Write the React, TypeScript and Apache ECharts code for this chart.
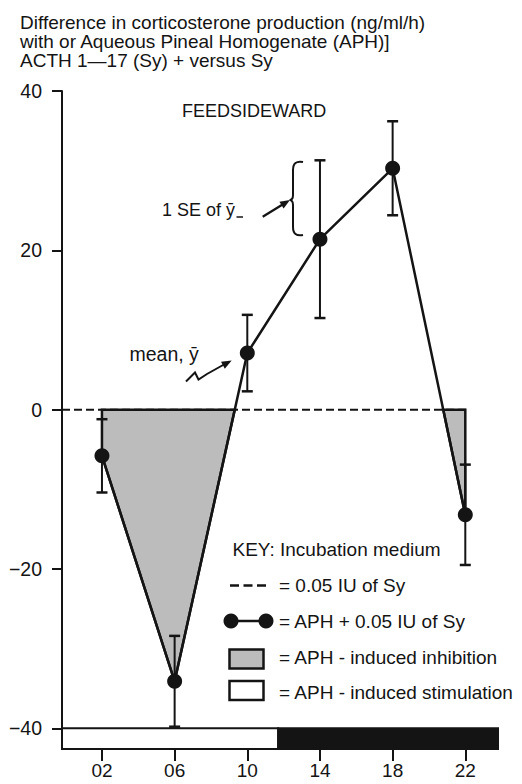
import React, { useEffect, useRef } from "react";
import * as echarts from "echarts";

// ---- Data ----
const hours = [2, 6, 10, 14, 18, 22];
const means = [-5.8, -34.1, 7.1, 21.4, 30.3, -13.2];
const se = [4.6, 5.7, 4.8, 9.9, 5.9, 6.3];
const referenceHours = [-0.2, 22.2];
const referenceValues = [0, 0];
const xTicks = [2, 6, 10, 14, 18, 22];
const yTicks = [-40, -20, 0, 20, 40];
const photoStart = [-0.2, 11.7];
const photoEnd = [11.7, 23.8];
const photoPhase = ["light", "dark"];
const xMin = -0.2;
const xMax = 23.8;
const yMin = -42.6;
const yMax = 40;
const barTop = -40;

const titleLines = [
  "Difference in corticosterone production (ng/ml/h)",
  "with or Aqueous Pineal Homogenate (APH)]",
  "ACTH 1\u201417 (Sy) + versus Sy",
];
const legendTitle = "KEY: Incubation medium";
const legendLabels = [
  "= 0.05 IU of Sy",
  "= APH + 0.05 IU of Sy",
  "= APH - induced inhibition",
  "= APH - induced stimulation",
];

const FONT = '"Liberation Sans", Arial, Helvetica, sans-serif';
const INK = "#141414";
const GRAY = "#bcbcbc";

echarts.graphic.registerShape(
  "brace",
  echarts.graphic.extendPath(
    "M303,162 Q293,160 293,170 L293,195 Q293,200 289.5,200 Q293,200 293,205 L293,227 Q293,237 303,235",
    {}
  )
);

function txt(text: string, x: number, y: number, size = 18, extra: any = {}) {
  return {
    type: "text",
    z: 20,
    style: {
      text,
      x,
      y,
      fill: INK,
      font: `${size}px ${FONT}`,
      align: "left",
      verticalAlign: "middle",
      ...extra,
    },
  };
}

export default function App() {
  const ref = useRef<HTMLDivElement>(null);
  useEffect(() => {
    if (!ref.current) return;
    const chart = echarts.init(ref.current, null, { renderer: "svg" });

    const negRegions = (): number[][][] => {
      const regions: number[][][] = [];
      let cur: number[][] | null = null;
      for (let i = 0; i < hours.length; i++) {
        const v = means[i];
        if (v < 0) {
          if (!cur) {
            cur = [];
            if (i > 0 && means[i - 1] > 0) {
              const a = means[i - 1];
              const t = a / (a - v);
              cur.push([hours[i - 1] + t * (hours[i] - hours[i - 1]), 0]);
            } else {
              cur.push([hours[i], 0]);
            }
          }
          cur.push([hours[i], v]);
          if (i === hours.length - 1) {
            cur.push([hours[i], 0]);
            regions.push(cur);
            cur = null;
          }
        } else if (cur) {
          const a = means[i - 1];
          const t = a / (a - v);
          cur.push([hours[i - 1] + t * (hours[i] - hours[i - 1]), 0]);
          regions.push(cur);
          cur = null;
        }
      }
      return regions;
    };

    const option: any = {
      animation: false,
      grid: {
        left: 62,
        right: 24,
        top: 91,
        bottom: 35,
        containLabel: false,
        outerBoundsMode: "none",
      },
      xAxis: {
        type: "value",
        min: xMin,
        max: xMax,
        axisLine: { show: true, onZero: false, lineStyle: { color: INK, width: 2 } },
        axisTick: {
          show: true,
          customValues: xTicks,
          length: 12,
          lineStyle: { color: INK, width: 2 },
        },
        axisLabel: {
          customValues: xTicks,
          formatter: (v: number) => String(v).padStart(2, "0"),
          color: INK,
          fontSize: 19,
          fontFamily: FONT,
          margin: 12,
        },
        splitLine: { show: false },
      },
      yAxis: {
        type: "value",
        min: yMin,
        max: yMax,
        axisLine: { show: true, onZero: false, lineStyle: { color: INK, width: 2 } },
        axisTick: {
          show: true,
          customValues: yTicks,
          length: 10,
          lineStyle: { color: INK, width: 2 },
        },
        axisLabel: {
          customValues: yTicks,
          formatter: (v: number) => (v < 0 ? "\u2212" + Math.abs(v) : String(v)),
          color: INK,
          fontSize: 19.5,
          fontFamily: FONT,
          margin: 20,
        },
        splitLine: { show: false },
      },
      series: [
        {
          type: "custom",
          name: "photoperiod",
          z: 1,
          data: photoStart.map((s, i) => [s, photoEnd[i], i]),
          renderItem: (params: any, api: any) => {
            const i = api.value(2);
            const p1 = api.coord([api.value(0), barTop]);
            const p2 = api.coord([api.value(1), yMin]);
            const light = photoPhase[i] === "light";
            return {
              type: "rect",
              shape: { x: p1[0], y: p1[1], width: p2[0] - p1[0], height: p2[1] - p1[1] },
              style: light
                ? { fill: "#fff", stroke: INK, lineWidth: 2 }
                : { fill: INK, stroke: INK, lineWidth: 2 },
            };
          },
        },
        {
          type: "custom",
          name: "inhibition",
          z: 2,
          data: [[hours[0], 0]],
          renderItem: (params: any, api: any) => {
            const regs = negRegions();
            return {
              type: "group",
              children: regs.map((r) => ({
                type: "polygon",
                shape: { points: r.map((p) => api.coord(p)) },
                style: { fill: GRAY, stroke: INK, lineWidth: 2.5, lineJoin: "miter" },
              })),
            };
          },
        },
        {
          type: "line",
          name: "0.05 IU of Sy",
          z: 3,
          symbol: "none",
          data: referenceHours.map((h, i) => [h, referenceValues[i]]),
          lineStyle: { color: INK, width: 2, type: [8, 4] },
        },
        {
          type: "custom",
          name: "SE",
          z: 4,
          data: hours.map((h, i) => [h, means[i], se[i]]),
          renderItem: (params: any, api: any) => {
            const x = api.value(0);
            const m = api.value(1);
            const s = api.value(2);
            const top = api.coord([x, m + s]);
            const bot = api.coord([x, m - s]);
            const hw = 5.5;
            const st = { stroke: INK, lineWidth: 2 };
            return {
              type: "group",
              children: [
                { type: "line", shape: { x1: top[0], y1: top[1], x2: bot[0], y2: bot[1] }, style: st },
                { type: "line", shape: { x1: top[0] - hw, y1: top[1], x2: top[0] + hw, y2: top[1] }, style: { ...st, lineWidth: 2.5 } },
                { type: "line", shape: { x1: bot[0] - hw, y1: bot[1], x2: bot[0] + hw, y2: bot[1] }, style: { ...st, lineWidth: 2.5 } },
              ],
            };
          },
        },
        {
          type: "line",
          name: "APH + 0.05 IU of Sy",
          z: 5,
          symbol: "circle",
          symbolSize: 15,
          data: hours.map((h, i) => [h, means[i]]),
          lineStyle: { color: INK, width: 2.5 },
          itemStyle: { color: INK, borderWidth: 0 },
        },
      ],
      graphic: [
        txt(titleLines[0], 20, 22.3, 19),
        txt(titleLines[1], 20, 41.3, 19),
        txt(titleLines[2], 20, 60.3, 19),
        txt("FEEDSIDEWARD", 182, 111),
        txt("1 SE of \u0233", 162, 210),
        { type: "line", z: 20, shape: { x1: 236.5, y1: 217, x2: 243, y2: 217 }, style: { stroke: INK, lineWidth: 1.5 } },
        { type: "line", z: 20, shape: { x1: 262.7, y1: 216.7, x2: 283, y2: 204.3 }, style: { stroke: INK, lineWidth: 2.2 } },
        { type: "polygon", z: 20, shape: { points: [[290, 200], [283.6, 208.6], [279.4, 201.8]] }, style: { fill: INK } },
        { type: "brace", z: 20, x: 0, y: 0, style: { stroke: INK, fill: "none", lineWidth: 2 } },
        txt("mean, \u0233", 129.5, 354, 19.5),
        {
          type: "polyline",
          z: 20,
          shape: { points: [[186, 381.5], [195, 372.5], [198.5, 379.5], [207, 374], [224, 364.5]] },
          style: { stroke: INK, lineWidth: 2, fill: "none" },
        },
        { type: "polygon", z: 20, shape: { points: [[231.7, 360.5], [224.8, 368.8], [221.0, 361.8]] }, style: { fill: INK } },
        txt(legendTitle, 232.5, 549, 19),
        { type: "line", z: 20, shape: { x1: 230, y1: 585.5, x2: 270, y2: 585.5 }, style: { stroke: INK, lineWidth: 2.5, lineDash: [9, 4.5] } },
        txt(legendLabels[0], 279, 585.7, 19),
        { type: "line", z: 20, shape: { x1: 231, y1: 621, x2: 266, y2: 621 }, style: { stroke: INK, lineWidth: 2.5 } },
        { type: "circle", z: 20, shape: { cx: 231, cy: 621, r: 7.5 }, style: { fill: INK } },
        { type: "circle", z: 20, shape: { cx: 266, cy: 621, r: 7.5 }, style: { fill: INK } },
        txt(legendLabels[1], 279, 621, 19),
        { type: "rect", z: 20, shape: { x: 229.5, y: 649.5, width: 34, height: 19 }, style: { fill: GRAY, stroke: INK, lineWidth: 2.5 } },
        txt(legendLabels[2], 279, 657.3, 19),
        { type: "rect", z: 20, shape: { x: 229.5, y: 681, width: 34, height: 19 }, style: { fill: "#fff", stroke: INK, lineWidth: 2.5 } },
        txt(legendLabels[3], 279, 692.3, 19),
      ],
    };
    chart.setOption(option);
    return () => chart.dispose();
  }, []);
  return <div ref={ref} style={{ width: 522, height: 784, position: "absolute", left: 0, top: 0 }} />;
}
